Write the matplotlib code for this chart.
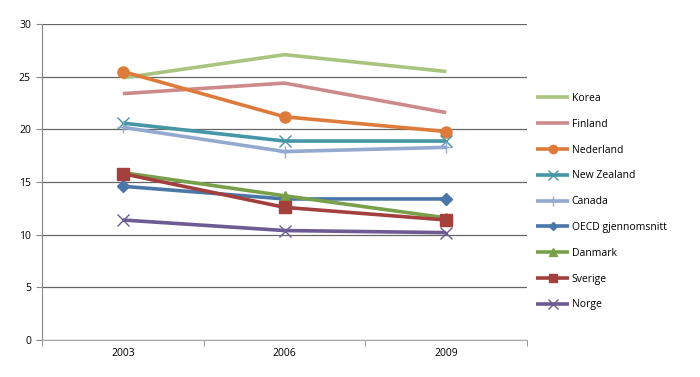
import matplotlib.pyplot as plt
import numpy as np

plt.rcParams["font.family"] = ["Open Sans", "DejaVu Sans"]

YEARS = ["2003", "2006", "2009"]
SERIES = ["Korea", "Finland", "Nederland", "New Zealand", "Canada",
          "OECD gjennomsnitt", "Danmark", "Sverige", "Norge"]
KOREA = [24.9, 27.1, 25.5]
FINLAND = [23.4, 24.4, 21.6]
NEDERLAND = [25.5, 21.2, 19.8]
NEW_ZEALAND = [20.6, 18.9, 18.9]
CANADA = [20.2, 17.9, 18.3]
OECD = [14.6, 13.4, 13.4]
DANMARK = [15.9, 13.7, 11.6]
SVERIGE = [15.8, 12.6, 11.4]
NORGE = [11.4, 10.4, 10.2]
VALUES = [KOREA, FINLAND, NEDERLAND, NEW_ZEALAND, CANADA, OECD, DANMARK, SVERIGE, NORGE]

COLORS = ["#A8C47E", "#CC8B8A", "#DE7B3A", "#4596A6", "#93A9CF",
          "#4A76A8", "#78A04A", "#A3403D", "#6D5B93"]
MARKERS = [None, None, "o", "x", "+", "D", "^", "s", "x"]
MSIZES = [0, 0, 8, 9, 9, 6, 7, 8, 9]

fig = plt.figure(figsize=(7.0, 3.77), dpi=100)
ax = fig.add_axes([0.06, 0.098, 0.693, 0.838])

x = np.arange(len(YEARS))
for name, vals, c, m, ms in zip(SERIES, VALUES, COLORS, MARKERS, MSIZES):
    ax.plot(x, vals, color=c, lw=2.6, marker=m, ms=ms, mew=1.0,
            mec=c, mfc=c, label=name, solid_capstyle="butt")

ax.set_xlim(-0.5, 2.5)
ax.set_ylim(0, 30)
ax.set_yticks(np.arange(0, 31, 5))
ax.set_xticks(x)
ax.set_xticklabels(YEARS)
ax.set_xticks([-0.5, 0.5, 1.5, 2.5], minor=True)
ax.tick_params(axis="x", which="major", length=0, labelsize=7.5, pad=6)
ax.tick_params(axis="x", which="minor", length=4, color="#888888", direction="out")
ax.tick_params(axis="y", length=4, color="#888888", labelsize=7.5, pad=4)
ax.yaxis.grid(True, color="#666666", lw=0.9)
ax.set_axisbelow(True)
for s in ["top", "right"]:
    ax.spines[s].set_visible(False)
ax.spines["left"].set_color("#888888")
ax.spines["bottom"].set_color("#aaaaaa")

ax.legend(loc="upper left", bbox_to_anchor=(1.01, 0.795), frameon=False,
          fontsize=7.5, handlelength=3.2, handletextpad=0.2, labelspacing=1.42,
          borderaxespad=0, markerscale=0.75)

fig.savefig("out.png", dpi=100)
